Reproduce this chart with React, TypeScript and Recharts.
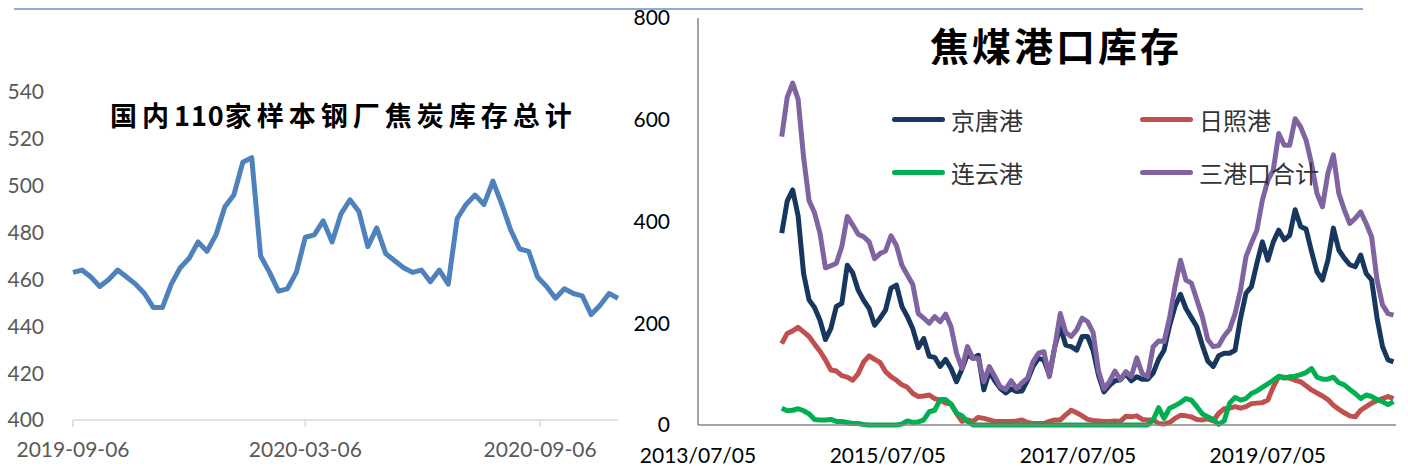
import React from "react";
import { LineChart, Line, XAxis, YAxis, Legend } from "recharts";

const DAY = 86400000;

// 国内110家样本钢厂焦炭库存总计, weekly from 2019-09-06
const cokeStart = Date.UTC(2019, 8, 6);
const cokeTickLabels = ["2019-09-06", "2020-03-06", "2020-09-06"];
const cokeYTicks = [400, 420, 440, 460, 480, 500, 520, 540];
const cokeStock = [
  463, 464, 461, 457, 460, 464, 461, 458, 454, 448, 448, 458, 465, 469, 476, 472,
  479, 491, 496, 510, 512, 470, 463, 455, 456, 463, 478, 479, 485, 476, 488, 494,
  489, 474, 482, 471, 468, 465, 463, 464, 459, 464, 458, 486, 492, 496, 492, 502,
  492, 481, 473, 472, 461, 457, 452, 456, 454, 453, 445, 449, 454, 452,
];

// 焦煤港口库存, sampled every 3 weeks from week 46 after 2013/07/05
const portStart = Date.UTC(2013, 6, 5);
const portTickLabels = ["2013/07/05", "2015/07/05", "2017/07/05", "2019/07/05"];
const portYTicks = [0, 200, 400, 600, 800];
const jingtang = [
  377, 440, 462, 411, 298, 246, 231, 206, 168, 190, 233, 239, 314, 299, 265, 245,
  229, 196, 210, 226, 269, 275, 233, 213, 189, 152, 170, 135, 133, 115, 129, 111,
  85, 110, 139, 131, 137, 69, 105, 87, 72, 63, 71, 66, 67, 88, 115, 131,
  128, 98, 154, 193, 157, 154, 147, 174, 174, 147, 98, 65, 78, 87, 89, 101,
  87, 95, 90, 90, 102, 129, 147, 195, 233, 257, 229, 211, 193, 157, 126, 115,
  136, 141, 141, 147, 210, 259, 272, 318, 360, 324, 360, 383, 364, 373, 423, 390,
  385, 341, 301, 285, 324, 387, 344, 328, 315, 311, 334, 298, 285, 210, 154, 128,
  124,
];
const rizhao = [
  160, 180, 185, 192, 183, 174, 159, 145, 128, 108, 106, 97, 94, 88, 101, 124,
  136, 129, 123, 105, 95, 88, 79, 74, 62, 56, 57, 59, 52, 49, 43, 41,
  23, 7, 10, 7, 15, 13, 10, 7, 7, 7, 7, 8, 10, 5, 3, 3,
  3, 7, 10, 10, 20, 29, 24, 18, 11, 9, 8, 7, 7, 8, 7, 17,
  16, 18, 11, 10, 10, 3, 2, 5, 13, 19, 18, 16, 11, 10, 12, 8,
  23, 32, 33, 36, 33, 36, 42, 43, 44, 49, 75, 95, 94, 92, 88, 85,
  77, 69, 63, 57, 50, 39, 31, 24, 18, 16, 29, 36, 43, 48, 52, 56,
  52,
];
const lianyun = [
  33, 28, 29, 32, 28, 22, 11, 10, 10, 11, 7, 7, 5, 3, 3, 1,
  0, 0, 0, 0, 0, 0, 2, 8, 5, 6, 10, 26, 29, 50, 50, 41,
  23, 18, 7, 0, 0, 0, 0, 0, 0, 0, 0, 0, 0, 0, 0, 0,
  0, 0, 0, 0, 0, 0, 0, 0, 0, 0, 0, 0, 0, 0, 0, 0,
  0, 0, 0, 0, 10, 34, 13, 33, 38, 44, 52, 49, 36, 22, 16, 11,
  1, 8, 43, 54, 49, 52, 62, 67, 74, 81, 88, 96, 92, 95, 96, 99,
  103, 111, 94, 90, 90, 94, 83, 79, 70, 62, 52, 59, 56, 50, 46, 40,
  46,
];
const sangang = [
  567, 644, 672, 640, 526, 441, 417, 377, 309, 313, 318, 351, 410, 393, 375, 370,
  360, 327, 337, 342, 372, 353, 314, 295, 276, 219, 210, 200, 213, 203, 218, 193,
  141, 111, 154, 131, 131, 85, 115, 96, 75, 70, 87, 72, 83, 92, 124, 141,
  144, 95, 154, 219, 182, 174, 187, 210, 203, 182, 106, 71, 85, 106, 89, 105,
  95, 132, 101, 95, 154, 165, 164, 210, 272, 324, 285, 279, 246, 213, 168, 154,
  156, 175, 188, 219, 265, 331, 358, 383, 442, 481, 501, 573, 550, 550, 602, 586,
  560, 514, 455, 429, 495, 531, 455, 423, 396, 406, 419, 396, 370, 285, 236, 219,
  216,
];

const portSeries = [
  { key: "jt", name: "京唐港", color: "#17375e" },
  { key: "rz", name: "日照港", color: "#c0504d" },
  { key: "ly", name: "连云港", color: "#00b050" },
  { key: "sum", name: "三港口合计", color: "#8064a2" },
];

const cokeRows = cokeStock.map((v, i) => ({ day: i * 7, stock: v }));
const cokeTicks = cokeTickLabels.map((s) => (Date.parse(s) - cokeStart) / DAY);

const portRows = jingtang.map((v, i) => ({
  week: 46 + 3 * i,
  jt: v,
  rz: rizhao[i],
  ly: lianyun[i],
  sum: sangang[i],
}));
const portTicks = portTickLabels.map(
  (s) => (Date.parse(s.replace(/\//g, "-")) - portStart) / (7 * DAY)
);

const labelFor = (ticks: number[], labels: string[]) => (v: number) => {
  const i = ticks.findIndex((t) => Math.abs(t - v) < 0.01);
  return i >= 0 ? labels[i] : "";
};

const NUM_FONT = "Lato, 'Noto Sans', sans-serif";
const CJK_FONT = "'Noto Sans CJK SC', sans-serif";

function PortLegend() {
  return (
    <div style={{ display: "grid", gridTemplateColumns: "248px 220px" }}>
      {portSeries.map((s) => (
        <div key={s.key} style={{ display: "flex", alignItems: "center", height: 53 }}>
          <span
            style={{
              display: "inline-block",
              width: 53,
              height: 5,
              borderRadius: 3,
              background: s.color,
              marginRight: 6,
            }}
          />
          <span style={{ fontFamily: CJK_FONT, fontSize: 24, color: "#333", whiteSpace: "nowrap" }}>
            {s.name}
          </span>
        </div>
      ))}
    </div>
  );
}

export default function App() {
  return (
    <div style={{ position: "relative", width: 1408, height: 470, background: "#fff", overflow: "hidden" }}>
      <style>{"body{margin:0}"}</style>
      <div style={{ position: "absolute", left: 14, top: 8, width: 1349, height: 2, background: "#8faadc" }} />

      <div style={{ position: "absolute", left: 0, top: 0 }}>
        <LineChart width={640} height={470} data={cokeRows} margin={{ top: 92, right: 22, bottom: 10, left: 0 }}>
          <XAxis
            dataKey="day"
            type="number"
            domain={[0, 427]}
            ticks={cokeTicks}
            interval={0}
            tickFormatter={labelFor(cokeTicks, cokeTickLabels)}
            height={40}
            axisLine={{ stroke: "#d9d9d9", strokeWidth: 1.5 }}
            tickLine={{ stroke: "#d9d9d9", strokeWidth: 1.5 }}
            tickSize={7}
            tickMargin={15}
            tick={{ fill: "#595959", fontSize: 21, fontFamily: NUM_FONT }}
          />
          <YAxis
            domain={[400, 540]}
            ticks={cokeYTicks}
            interval={0}
            width={73}
            axisLine={false}
            tickLine={false}
            tickSize={0}
            tickMargin={29}
            tick={{ fill: "#595959", fontSize: 21, fontFamily: NUM_FONT }}
          />
          <Line
            dataKey="stock"
            type="linear"
            stroke="#4f81bd"
            strokeWidth={5}
            strokeLinejoin="round"
            dot={false}
            isAnimationActive={false}
          />
        </LineChart>
      </div>
      <div
        style={{
          position: "absolute",
          left: 110,
          top: 99,
          fontFamily: CJK_FONT,
          fontWeight: 700,
          fontSize: 27,
          letterSpacing: 5,
          lineHeight: "32px",
          color: "#000",
          whiteSpace: "nowrap",
        }}
      >
        国内<span style={{ letterSpacing: 1 }}>110</span>家样本钢厂焦炭库存总计
      </div>

      <div style={{ position: "absolute", left: 620, top: 0 }}>
        <LineChart width={788} height={470} data={portRows} margin={{ top: 18, right: 12, bottom: 5, left: 0 }}>
          <XAxis
            dataKey="week"
            type="number"
            domain={[0, 383.4]}
            ticks={portTicks}
            interval={0}
            tickFormatter={labelFor(portTicks, portTickLabels)}
            height={40}
            axisLine={{ stroke: "#868686", strokeWidth: 1.5 }}
            tickLine={false}
            tickSize={0}
            tickMargin={23}
            tick={{ fill: "#000", fontSize: 21, fontFamily: NUM_FONT }}
          />
          <YAxis
            domain={[0, 800]}
            ticks={portYTicks}
            interval={0}
            width={78}
            axisLine={{ stroke: "#868686", strokeWidth: 1.5 }}
            tickLine={false}
            tickSize={0}
            tickMargin={28}
            tick={{ fill: "#000", fontSize: 21, fontFamily: NUM_FONT }}
          />
          <Legend
            layout="horizontal"
            verticalAlign="middle"
            align="center"
            wrapperStyle={{ left: 272, top: 93, width: 470, height: 106 }}
            content={<PortLegend />}
          />
          {portSeries.map((s) => (
            <Line
              key={s.key}
              dataKey={s.key}
              name={s.name}
              stroke={s.color}
              strokeWidth={5}
              strokeLinejoin="round"
              dot={false}
              isAnimationActive={false}
            />
          ))}
        </LineChart>
      </div>
      <div
        style={{
          position: "absolute",
          left: 930,
          top: 22,
          fontFamily: CJK_FONT,
          fontWeight: 700,
          fontSize: 39,
          letterSpacing: 3,
          lineHeight: "44px",
          color: "#000",
          whiteSpace: "nowrap",
        }}
      >
        焦煤港口库存
      </div>
    </div>
  );
}
